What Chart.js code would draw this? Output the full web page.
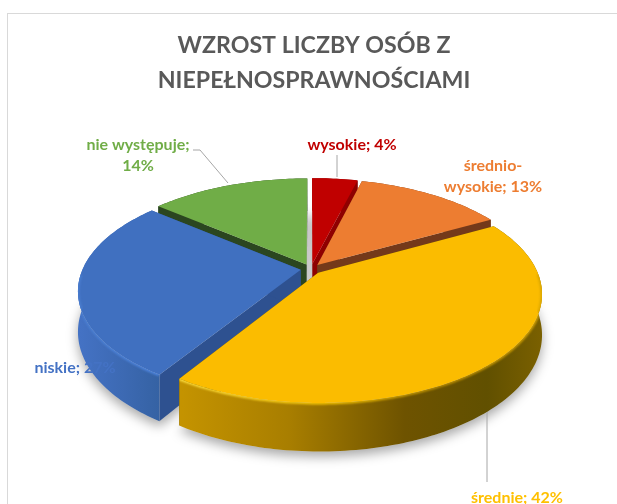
<!DOCTYPE html>
<html>
<head>
<meta charset="utf-8">
<script src="https://cdn.jsdelivr.net/npm/chart.js@4/dist/chart.umd.js"></script>
<style>
    html, body { margin: 0; background: #fff; overflow: hidden; }
    #frame { position: absolute; left: 7px; top: 13px; width: 620px; height: 500px;
             border: 1px solid #d9d9d9; }
    canvas { position: absolute; left: 0; top: 0; }
</style>
</head>
<body>
<div id="frame"></div>
<canvas id="pie" width="617" height="504"></canvas>
<script>
const titleLines = ["WZROST LICZBY OSÓB Z", "NIEPEŁNOSPRAWNOŚCIAMI"];
const categories = ["wysokie", "średnio-wysokie", "średnie", "niskie", "nie występuje"];
const shares = [4, 13, 42, 27, 14];
const sliceColors = ["#C00000", "#ED7D31", "#FBBC00", "#4070C0", "#70AD47"];
const labelColors = ["#C00000", "#ED7D31", "#FFC000", "#4472C4", "#70AD47"];
const sideColors = ["#8F0000", "#74391A", "#5F4A00", "#2E5190", "#2B4620"];

// wall gradients: [x from, x to, stops]
const wallShades = [
    [300, 370, [[0, "#8F0000"], [1, "#8F0000"]]],
    [350, 500, [[0, "#74391A"], [1, "#74391A"]]],
    [182, 541, [[0, "#C49300"], [0.3, "#A87E00"], [0.62, "#6E5300"], [0.85, "#615000"], [1, "#7A6000"]]],
    [80, 170, [[0, "#4472C4"], [0.5, "#3C69B2"], [1, "#33609F"]]],
    [150, 310, [[0, "#2B4620"], [1, "#2B4620"]]]
];
const rimShades = [
    [300, 370, [[0, "#C00000"], [1, "#C00000"]]],
    [350, 500, [[0, "#ED7D31"], [1, "#ED7D31"]]],
    [182, 541, [[0, "#FFE040"], [0.4, "#F5C400"], [0.72, "#B88C00"], [1, "#D8A500"]]],
    [80, 170, [[0, "#4A7ED0"], [1, "#5088E4"]]],
    [150, 310, [[0, "#70AD47"], [1, "#70AD47"]]]
];

// label placement, one entry per category
const labelLines = [
    ["wysokie; 4%"],
    ["średnio-", "wysokie; 13%"],
    ["średnie; 42%"],
    ["niskie; 27%"],
    ["nie występuje;", "14%"]
];
const labelAnchors = [[352, 145], [493, 166], [517, 498], [75, 368], [138, 145]];
const leaderLines = [
    [[337, 155], [337, 177]],
    null,
    [[487, 412], [487, 482]],
    null,
    [[193, 150], [200, 150], [228, 183]]
];

// projection of the pie plane onto the page
const CX = 311, CY = 269, RX = 218, RY = 104, TILT = 0.19, DEPTH = 39;

function project(nx, ny, lift) {
    const w = 1 / (1 - TILT * ny);
    return { x: CX + RX * nx * w, y: CY + RY * ny * w + lift * w };
}

function sliceGeometry(arc) {
    const p = arc.getProps(["startAngle", "endAngle", "outerRadius"], true);
    const mid = (p.startAngle + p.endAngle) / 2;
    const e = arc.options.offset / p.outerRadius;
    const ox = Math.cos(mid) * e, oy = Math.sin(mid) * e;
    const edge = [];
    const steps = Math.ceil((p.endAngle - p.startAngle) / 0.02);
    for (let i = 0; i <= steps; i++) {
        const a = p.startAngle + (p.endAngle - p.startAngle) * i / steps;
        edge.push([ox + Math.cos(a), oy + Math.sin(a)]);
    }
    return { mid, apex: [ox, oy], edge };
}

function tracePoints(ctx, pts) {
    ctx.beginPath();
    pts.forEach((q, i) => { if (i) ctx.lineTo(q.x, q.y); else ctx.moveTo(q.x, q.y); });
}

function shade(ctx, spec) {
    const g = ctx.createLinearGradient(spec[0], 0, spec[1], 0);
    spec[2].forEach(s => g.addColorStop(s[0], s[1]));
    return g;
}

const pie3d = {
    id: "pie3d",
    beforeDatasetDraw(chart) {
        const ctx = chart.ctx;
        const arcs = chart.getDatasetMeta(0).data;
        const slices = arcs.map((arc, i) => Object.assign(sliceGeometry(arc), { i, arc }));
        const order = slices.slice().sort((a, b) => Math.sin(a.mid) - Math.sin(b.mid));

        // soft ground shadow
        ctx.save();
        ctx.shadowColor = "rgba(0,0,0,0.35)";
        ctx.shadowBlur = 12;
        ctx.shadowOffsetY = 5;
        ctx.fillStyle = "#d8d8d8";
        slices.forEach(s => {
            const pts = [project(s.apex[0], s.apex[1], DEPTH)]
                .concat(s.edge.map(n => project(n[0], n[1], DEPTH)));
            tracePoints(ctx, pts);
            ctx.closePath();
            ctx.fill();
        });
        ctx.restore();

        order.forEach(s => {
            const first = s.edge[0], last = s.edge[s.edge.length - 1];
            // cut faces
            ctx.fillStyle = sideColors[s.i];
            [first, last].forEach(n => {
                tracePoints(ctx, [project(s.apex[0], s.apex[1], 0), project(n[0], n[1], 0),
                    project(n[0], n[1], DEPTH), project(s.apex[0], s.apex[1], DEPTH)]);
                ctx.closePath();
                ctx.fill();
            });
            // outer wall
            const upper = s.edge.map(n => project(n[0], n[1], 0));
            const lower = s.edge.map(n => project(n[0], n[1], DEPTH)).reverse();
            tracePoints(ctx, upper.concat(lower));
            ctx.closePath();
            ctx.fillStyle = shade(ctx, wallShades[s.i]);
            ctx.fill();
            // top face
            const apexTop = project(s.apex[0], s.apex[1], 0);
            tracePoints(ctx, [apexTop].concat(upper));
            ctx.closePath();
            ctx.fillStyle = s.arc.options.backgroundColor;
            ctx.fill();
            // bevel, only on the part of the edge facing the viewer
            const front = s.edge.filter(n => n[1] > 0.05).map(n => project(n[0], n[1], 0));
            if (front.length > 1) {
                ctx.save();
                tracePoints(ctx, [apexTop].concat(upper, lower));
                ctx.closePath();
                ctx.clip();
                ctx.filter = "blur(0.8px)";
                tracePoints(ctx, front);
                ctx.strokeStyle = shade(ctx, rimShades[s.i]);
                ctx.lineWidth = 3;
                ctx.stroke();
                ctx.restore();
            }
        });
        return false;
    },
    afterDraw(chart) {
        const ctx = chart.ctx;
        ctx.save();
        ctx.strokeStyle = "#A6A6A6";
        ctx.lineWidth = 1;
        leaderLines.forEach(line => {
            if (!line) return;
            ctx.beginPath();
            line.forEach((q, i) => { if (i) ctx.lineTo(q[0], q[1]); else ctx.moveTo(q[0], q[1]); });
            ctx.stroke();
        });
        ctx.font = "bold 16px Lato";
        ctx.textAlign = "center";
        ctx.textBaseline = "middle";
        labelLines.forEach((lines, i) => {
            ctx.fillStyle = labelColors[i];
            lines.forEach((text, j) => {
                ctx.fillText(text, labelAnchors[i][0], labelAnchors[i][1] + j * 21);
            });
        });
        ctx.restore();
    }
};

new Chart(document.getElementById("pie"), {
    type: "pie",
    data: {
        labels: categories,
        datasets: [{
            data: shares,
            backgroundColor: sliceColors,
            borderWidth: 0,
            offset: 9,
            hoverOffset: 0
        }]
    },
    options: {
        responsive: false,
        animation: false,
        events: [],
        rotation: 0,
        layout: { padding: { left: 11, top: 18 } },
        plugins: {
            legend: { display: false },
            tooltip: { enabled: false },
            title: {
                display: true,
                text: titleLines,
                color: "#595959",
                font: { family: "Lato", size: 23.2, weight: "bold", lineHeight: 1.5 },
                padding: { top: 10, bottom: 20 }
            }
        }
    },
    plugins: [pie3d]
});
</script>
</body>
</html>
